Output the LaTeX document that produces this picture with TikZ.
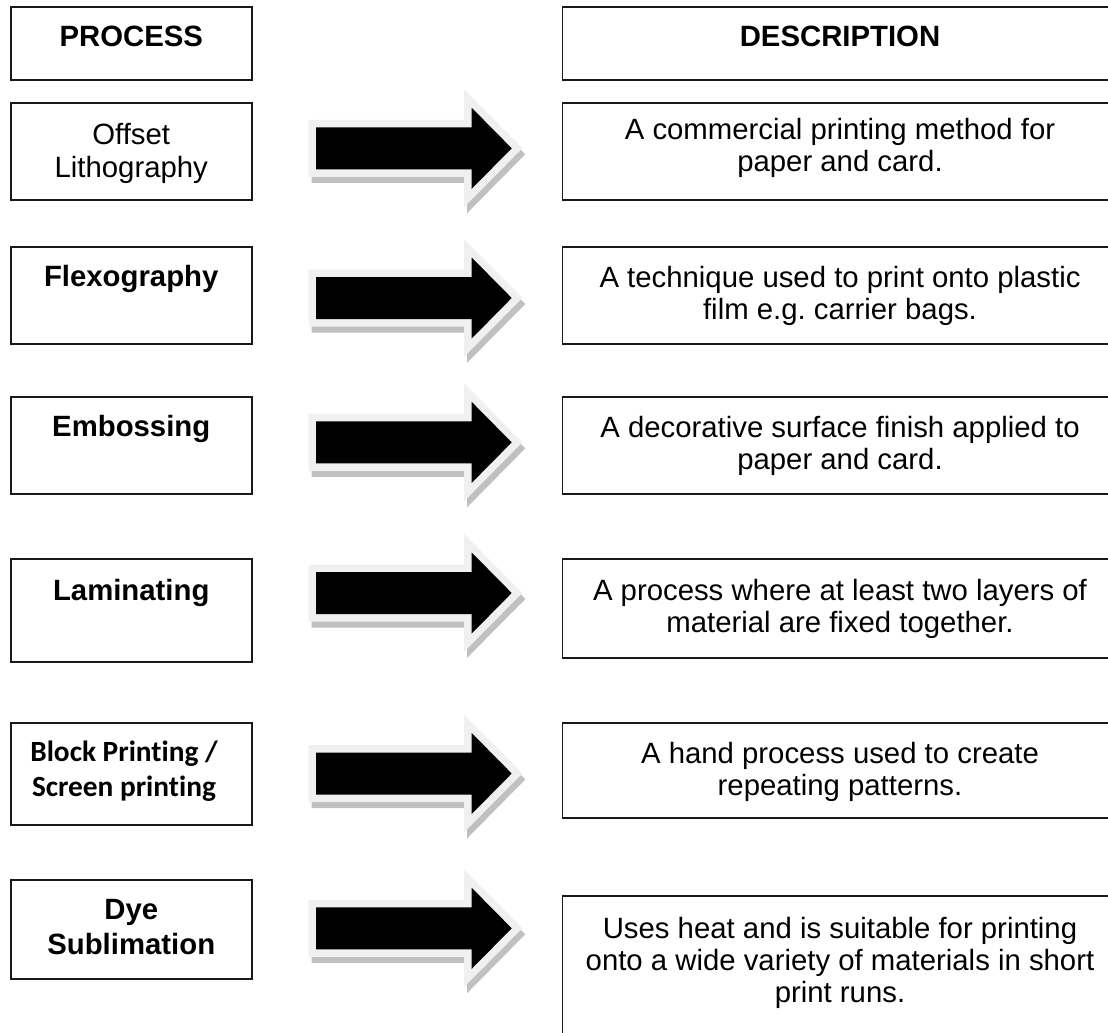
\documentclass[tikz,border=0pt]{standalone}
\usepackage{fontspec}
\setmainfont{Liberation Sans}
\newfontfamily\calfont[Ligatures=NoCommon]{Carlito}
\frenchspacing
\definecolor{bordergray}{RGB}{240,240,240}
\definecolor{shadowgray}{RGB}{192,192,192}
\definecolor{boxline}{RGB}{25,25,25}
\tikzset{
  blockarrow/.pic={
    \path[fill=shadowgray, draw=shadowgray, line width=15pt, line join=miter, shift={(3,6)}]
      (316,-21) -- (471.7,-21) -- (471.7,-40.5) -- (511.7,0) -- (471.7,40.5) -- (471.7,21) -- (316,21) -- cycle;
    \draw[bordergray, line width=15pt, line join=miter]
      (316,-21) -- (471.7,-21) -- (471.7,-40.5) -- (511.7,0) -- (471.7,40.5) -- (471.7,21) -- (316,21) -- cycle;
    \fill[black]
      (316,-21) -- (471.7,-21) -- (471.7,-40.5) -- (511.7,0) -- (471.7,40.5) -- (471.7,21) -- (316,21) -- cycle;
  }
}
\begin{document}
\begin{tikzpicture}[x=1pt,y=-1pt,
  lbox/.style={draw=boxline, line width=1.7pt, fill=white, inner sep=0pt, minimum width=241.1pt},
  rbox/.style={draw=boxline, line width=1.7pt, fill=white, inner sep=0pt, minimum width=555pt},
  txt/.style={anchor=base, align=center, inner sep=0pt, font=\fontsize{29.33}{32.3}\selectfont},
  btxt/.style={anchor=base, align=center, inner sep=0pt, font=\fontsize{29.33}{35}\selectfont\bfseries},
  ctxt/.style={anchor=base, align=center, inner sep=0pt, font=\fontsize{29.33}{35}\selectfont\calfont\bfseries}
]
\useasboundingbox (0,0) rectangle (1108,1033);
\fill[white] (0,0) rectangle (1108,1033);
\clip (0,0) rectangle (1108,1033);

% left column boxes
\node[lbox, minimum height=72.7pt] (p0) at (131.25,43.65) {};
\node[lbox, minimum height=96.7pt] (p1) at (131.25,151.65) {};
\node[lbox, minimum height=96.7pt] (p2) at (131.25,295.65) {};
\node[lbox, minimum height=96.7pt] (p3) at (131.25,445.65) {};
\node[lbox, minimum height=102.4pt] (p4) at (131.25,610.5) {};
\node[lbox, minimum height=102.3pt] (p5) at (131.25,773.85) {};
\node[lbox, minimum height=99.3pt] (p6) at (131.25,929.65) {};

% right column boxes
\node[rbox, minimum height=72.7pt] (d0) at (840,43.65) {};
\node[rbox, minimum height=96.7pt] (d1) at (840,151.65) {};
\node[rbox, minimum height=96.7pt] (d2) at (840,295.65) {};
\node[rbox, minimum height=96.7pt] (d3) at (840,445.65) {};
\node[rbox, minimum height=99pt] (d4) at (840,608.8) {};
\node[rbox, minimum height=95.6pt] (d5) at (840,770.5) {};
\node[rbox, minimum height=144pt] (d6) at (840,968) {};

% texts left (base anchor = baseline of the last line)
\node[btxt] (p0t) at (131.25,46.7) {PROCESS};
\node[txt] (p1t) at (131.25,177) {Offset\\Lithography};
\node[btxt] (p2t) at (131.25,286.7) {Flexography};
\node[btxt] (p3t) at (131.25,436.7) {Embossing};
\node[btxt] (p4t) at (131.25,600) {Laminating};
\node[ctxt] (p5t) at (124,796.7) {Block Printing /\\Screen printing};
\node[btxt] (p6t) at (131.25,954.3) {Dye\\Sublimation};

% texts right
\node[btxt] (d0t) at (840,46.7) {DESCRIPTION};
\node[txt] (d1t) at (840,171.3) {A commercial printing method for\\paper and card.};
\node[txt] (d2t) at (840,319.6) {A technique used to print onto plastic\\film e.g. carrier bags.};
\node[txt] (d3t) at (840,469.6) {A decorative surface finish applied to\\paper and card.};
\node[txt] (d4t) at (840,632.3) {A process where at least two layers of\\material are fixed together.};
\node[txt] (d5t) at (840,795.6) {A hand process used to create\\repeating patterns.};
\node[txt] (d6t) at (840,1002.9) {Uses heat and is suitable for printing\\onto a wide variety of materials in short\\print runs.};

% block arrows
\pic at (0,148.3) {blockarrow};
\pic at (0,298) {blockarrow};
\pic at (0,442.4) {blockarrow};
\pic at (0,593) {blockarrow};
\pic at (0,773.5) {blockarrow};
\pic at (0,928.3) {blockarrow};
\end{tikzpicture}
\end{document}
